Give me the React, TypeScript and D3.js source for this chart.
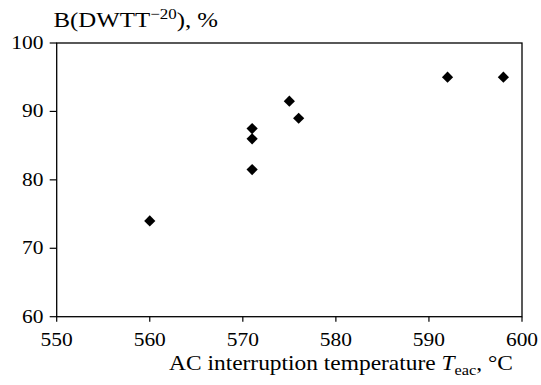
import React from "react";
import * as d3 from "d3";

const temps = [560, 571, 571, 571, 575, 576, 592, 598];
const bValues = [74, 81.5, 86, 87.5, 91.5, 89, 95, 95];
const xTicks = [550, 560, 570, 580, 590, 600];
const yTicks = [60, 70, 80, 90, 100];

const W = 541;
const H = 385;
const M = { left: 56.7, right: 522, top: 43, bottom: 316.7 };
const FONT = "'Liberation Serif', 'Times New Roman', serif";

export default function App() {
  const x = d3.scaleLinear().domain([550, 600]).range([M.left, M.right]);
  const y = d3.scaleLinear().domain([60, 100]).range([M.bottom, M.top]);
  const diamond = d3.symbol().type(d3.symbolDiamond2).size(80)();
  return (
    <svg width={W} height={H} style={{ position: "absolute", left: 0, top: 0, background: "#fff" }}>
      <rect x={M.left} y={M.top} width={M.right - M.left} height={M.bottom - M.top} fill="none" stroke="#000" strokeWidth={1.3} />
      {xTicks.map((t) => (
        <g key={"x" + t}>
          <line x1={x(t)} x2={x(t)} y1={M.bottom} y2={M.bottom + 5} stroke="#000" strokeWidth={1.2} />
          <text x={x(t)} y={346.5} textAnchor="middle" fontFamily={FONT} fontSize={19.5} fill="#000" transform={`translate(${x(t)},0) scale(1.1,1) translate(${-x(t)},0)`}>{t}</text>
        </g>
      ))}
      {yTicks.map((t) => (
        <g key={"y" + t}>
          <line x1={M.left - 7} x2={M.left} y1={y(t)} y2={y(t)} stroke="#000" strokeWidth={1.2} />
          <text x={43.5} y={y(t) + 6} textAnchor="end" fontFamily={FONT} fontSize={19.5} fill="#000" transform={`translate(43.5,0) scale(1.1,1) translate(-43.5,0)`}>{t}</text>
        </g>
      ))}
      {temps.map((t, i) => (
        <path key={i} d={diamond} transform={`translate(${x(t)},${y(bValues[i])})`} fill="#000" />
      ))}
      <text x={53.5} y={27} fontFamily={FONT} fontSize={22} fill="#000" transform="translate(53.5,0) scale(1.13,1) translate(-53.5,0)">
        B(DWTT<tspan dy={-8} fontSize={15}>−20</tspan><tspan dy={8}>), %</tspan>
      </text>
      <text x={513} y={370} textAnchor="end" fontFamily={FONT} fontSize={21.5} fill="#000" transform="translate(513,0) scale(1.09,1) translate(-513,0)">
        AC interruption temperature <tspan fontStyle="italic">T</tspan><tspan dy={5} fontSize={15}>eac</tspan><tspan dy={-5}>, °C</tspan>
      </text>
    </svg>
  );
}
